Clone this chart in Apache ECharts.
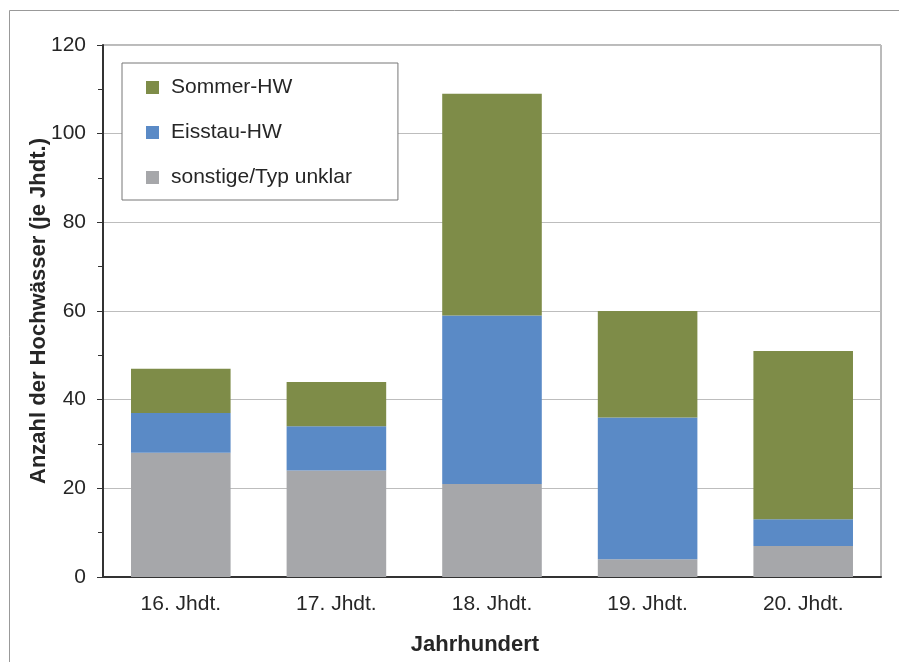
<!DOCTYPE html>
<html>
<head>
<meta charset="utf-8">
<script src="https://cdn.jsdelivr.net/npm/echarts@6/dist/echarts.min.js"></script>
<style>
  html, body { margin: 0; padding: 0; background: #fff; }
  #main { width: 899px; height: 662px; }
</style>
</head>
<body>
<div id="main"></div>
<script>
var categories = ['16. Jhdt.', '17. Jhdt.', '18. Jhdt.', '19. Jhdt.', '20. Jhdt.'];
var sonstige = [28, 24, 21, 4, 7];
var eisstau = [9, 10, 38, 32, 6];
var sommer = [10, 10, 50, 24, 38];
var yTicks = [0, 20, 40, 60, 80, 100, 120];

var font = 'Liberation Sans, Arial, sans-serif';
var myChart = echarts.init(document.getElementById('main'));
var option = {
    backgroundColor: '#fff',
    animation: false,
    graphic: [{
        type: 'rect',
        shape: { x: 9.5, y: 10.5, width: 960, height: 700 },
        style: { fill: 'none', stroke: '#999', lineWidth: 1 },
        silent: true
    }],
    grid: {
        left: 103, right: 18, top: 45, bottom: 85,
        show: true, borderColor: '#777', borderWidth: 1
    },
    legend: {
        orient: 'vertical',
        left: 122, top: 63,
        data: ['Sommer-HW', 'Eisstau-HW', 'sonstige/Typ unklar'],
        backgroundColor: '#fff',
        borderColor: '#777', borderWidth: 1,
        padding: [14, 46, 12, 24],
        itemWidth: 13, itemHeight: 13, itemGap: 24,
        icon: 'rect',
        textStyle: { fontFamily: font, fontSize: 21, color: '#262626', padding: [0, 0, 0, 7] }
    },
    xAxis: {
        type: 'category',
        data: categories,
        name: 'Jahrhundert',
        nameLocation: 'middle',
        nameGap: 57,
        nameTextStyle: { fontFamily: font, fontSize: 22, fontWeight: 'bold', color: '#262626', padding: [0, 34, 0, 0] },
        axisLine: { lineStyle: { color: '#333', width: 2 } },
        axisTick: { show: false },
        axisLabel: { fontFamily: font, fontSize: 21, color: '#262626', margin: 17 }
    },
    yAxis: {
        type: 'value',
        min: yTicks[0], max: yTicks[yTicks.length - 1], interval: 20,
        name: 'Anzahl der Hochwässer (je Jhdt.)',
        nameLocation: 'middle',
        nameGap: 53,
        nameMoveOverlap: false,
        nameTextStyle: { fontFamily: font, fontSize: 22, fontWeight: 'bold', color: '#262626' },
        axisLine: { show: true, lineStyle: { color: '#333', width: 2 } },
        axisTick: { show: true, length: 6, lineStyle: { color: '#333' } },
        minorTick: { show: true, splitNumber: 2, length: 5, lineStyle: { color: '#333' } },
        axisLabel: { fontFamily: font, fontSize: 21, color: '#262626', margin: 17 },
        splitLine: { lineStyle: { color: '#bdbdbd', width: 1 } }
    },
    series: [
        {
            name: 'sonstige/Typ unklar', type: 'bar', stack: 'a',
            data: sonstige, barWidth: '64%',
            itemStyle: { color: '#A6A7AA' }
        },
        {
            name: 'Eisstau-HW', type: 'bar', stack: 'a',
            data: eisstau, barWidth: '64%',
            itemStyle: { color: '#5A8AC6' }
        },
        {
            name: 'Sommer-HW', type: 'bar', stack: 'a',
            data: sommer, barWidth: '64%',
            itemStyle: { color: '#7E8C48' }
        }
    ]
};
myChart.setOption(option);
</script>
</body>
</html>
